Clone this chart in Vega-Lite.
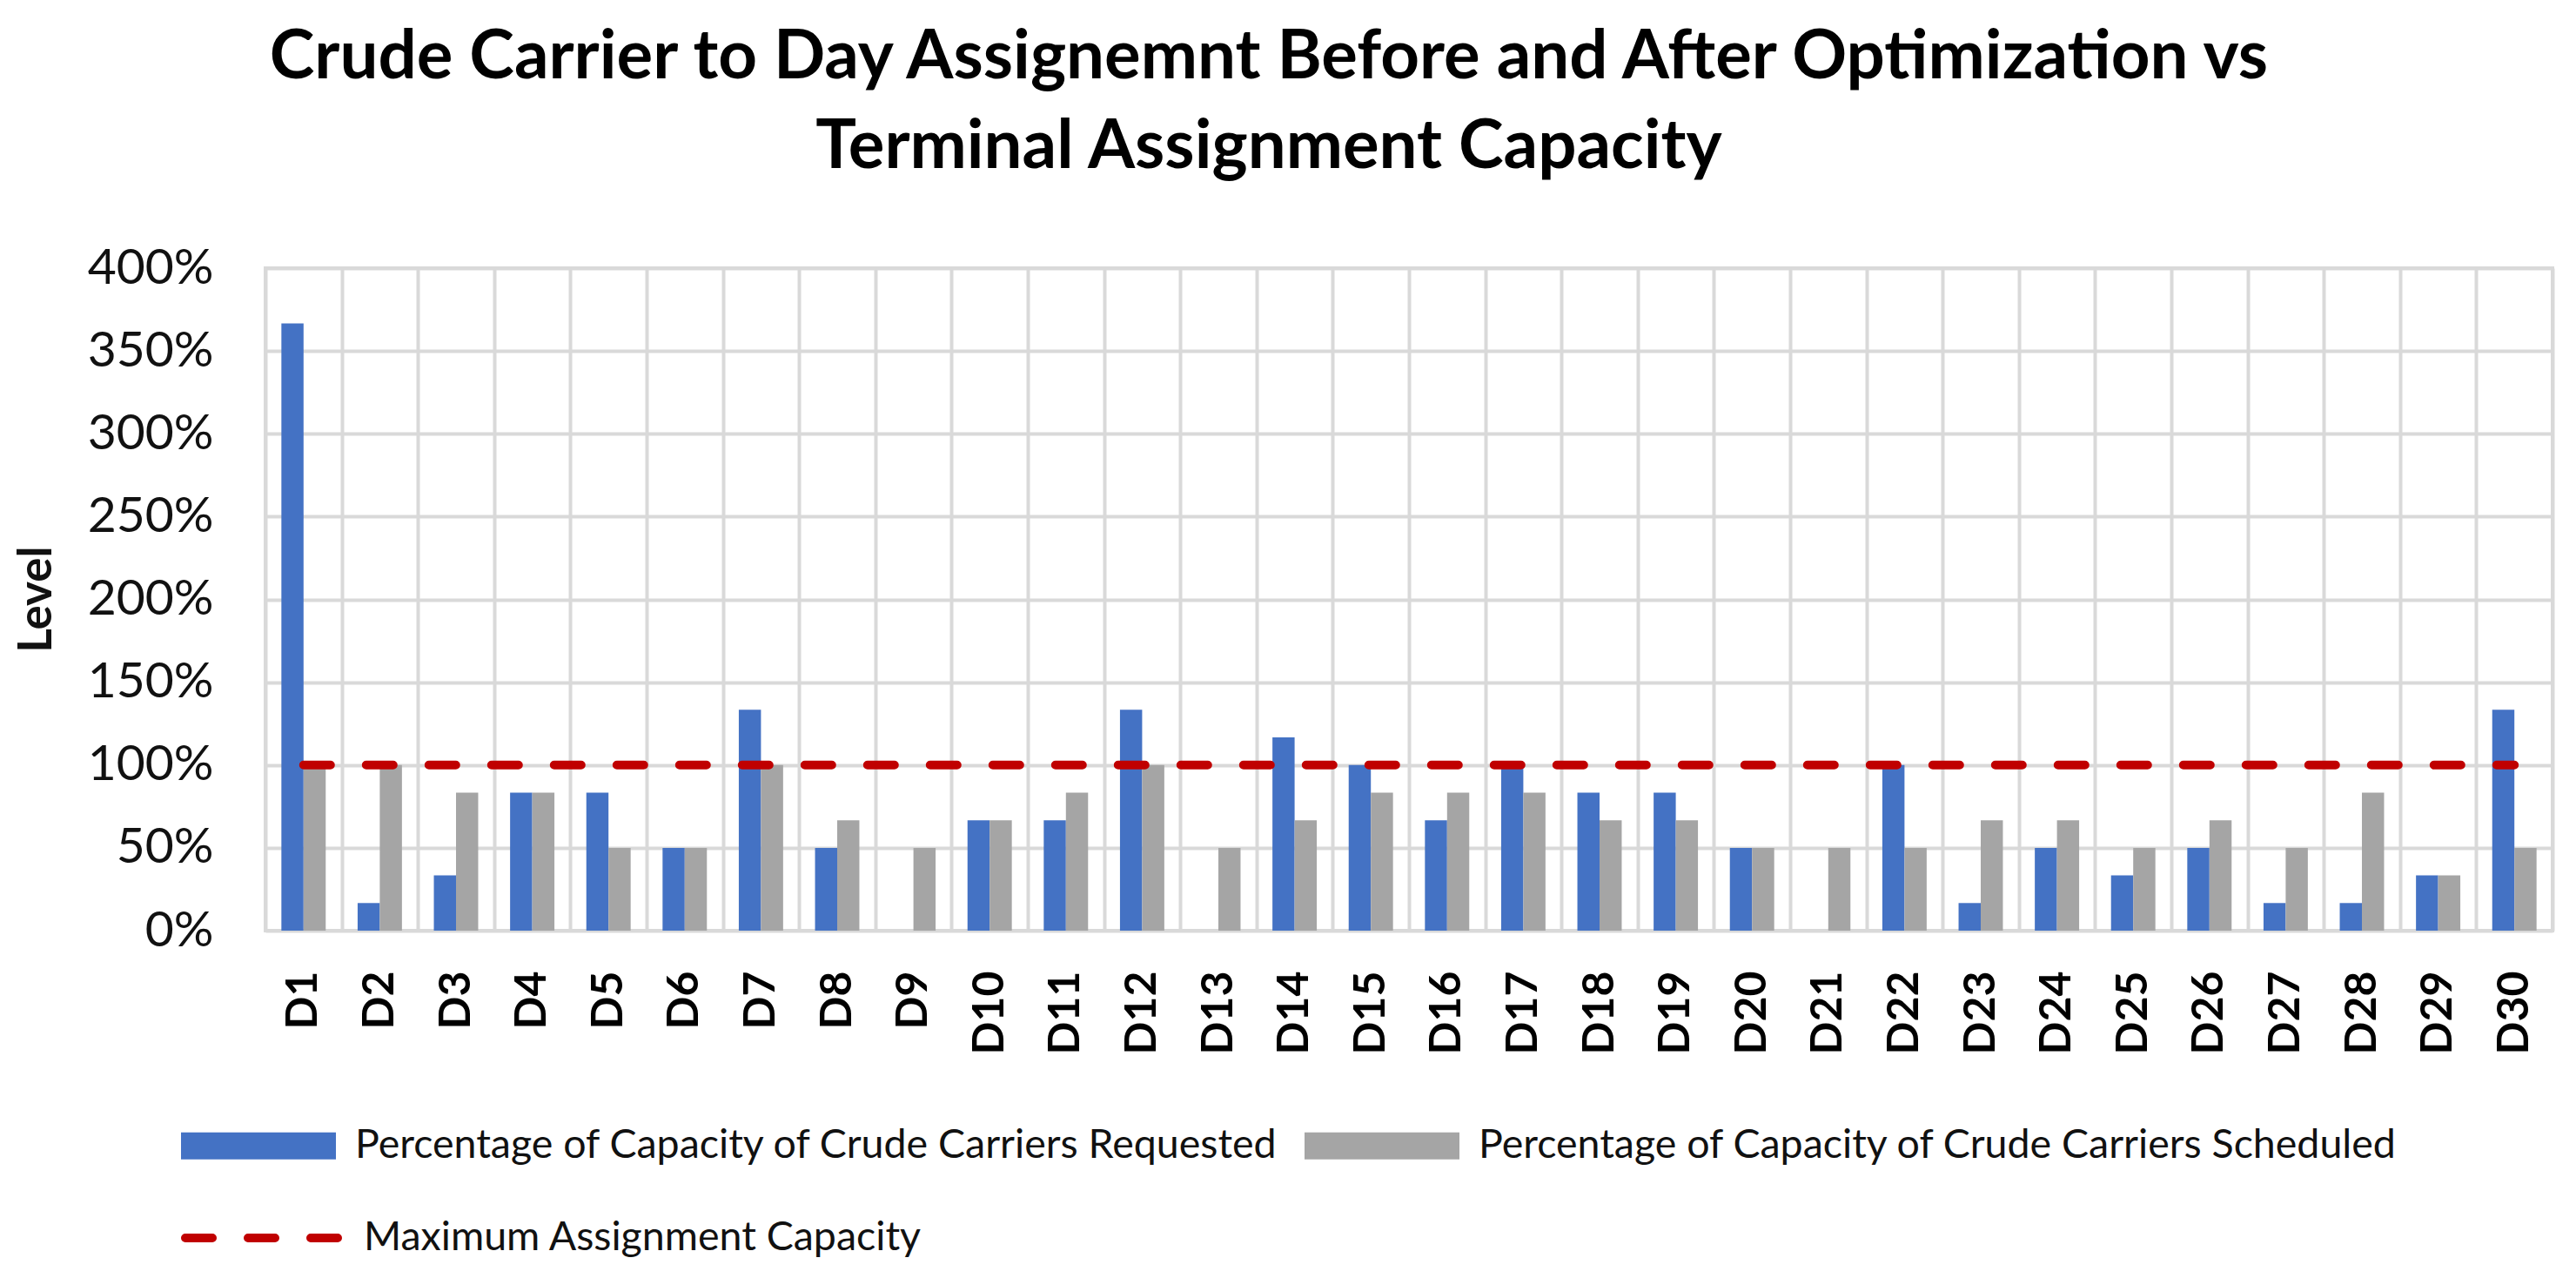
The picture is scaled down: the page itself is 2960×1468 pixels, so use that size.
{
  "$schema": "https://vega.github.io/schema/vega-lite/v6.json",
  "width": 2628,
  "height": 761,
  "autosize": {"type": "none"},
  "padding": {"left": 305, "top": 308, "right": 27, "bottom": 399},
  "background": "white",
  "config": {
    "font": "Lato",
    "view": {"stroke": "#D9D9D9", "strokeWidth": 4},
    "axis": {"labelFont": "Lato", "titleFont": "Lato", "labelColor": "#111111", "titleColor": "#111111"},
    "legend": {"labelFont": "Lato"}
  },
  "title": {
    "text": ["Crude Carrier to Day Assignemnt Before and After Optimization vs", "Terminal Assignment Capacity"],
    "font": "Lato",
    "fontSize": 78,
    "fontWeight": "bold",
    "color": "#000000",
    "anchor": "middle",
    "frame": "group",
    "dx": -161,
    "lineHeight": 103,
    "offset": 70
  },
  "datasets": {
    "bars": [
      {"day": "D1", "series": "Percentage of Capacity of Crude Carriers Requested", "value": 3.6667},
      {"day": "D1", "series": "Percentage of Capacity of Crude Carriers Scheduled", "value": 1.0},
      {"day": "D2", "series": "Percentage of Capacity of Crude Carriers Requested", "value": 0.1667},
      {"day": "D2", "series": "Percentage of Capacity of Crude Carriers Scheduled", "value": 1.0},
      {"day": "D3", "series": "Percentage of Capacity of Crude Carriers Requested", "value": 0.3333},
      {"day": "D3", "series": "Percentage of Capacity of Crude Carriers Scheduled", "value": 0.8333},
      {"day": "D4", "series": "Percentage of Capacity of Crude Carriers Requested", "value": 0.8333},
      {"day": "D4", "series": "Percentage of Capacity of Crude Carriers Scheduled", "value": 0.8333},
      {"day": "D5", "series": "Percentage of Capacity of Crude Carriers Requested", "value": 0.8333},
      {"day": "D5", "series": "Percentage of Capacity of Crude Carriers Scheduled", "value": 0.5},
      {"day": "D6", "series": "Percentage of Capacity of Crude Carriers Requested", "value": 0.5},
      {"day": "D6", "series": "Percentage of Capacity of Crude Carriers Scheduled", "value": 0.5},
      {"day": "D7", "series": "Percentage of Capacity of Crude Carriers Requested", "value": 1.3333},
      {"day": "D7", "series": "Percentage of Capacity of Crude Carriers Scheduled", "value": 1.0},
      {"day": "D8", "series": "Percentage of Capacity of Crude Carriers Requested", "value": 0.5},
      {"day": "D8", "series": "Percentage of Capacity of Crude Carriers Scheduled", "value": 0.6667},
      {"day": "D9", "series": "Percentage of Capacity of Crude Carriers Requested", "value": 0},
      {"day": "D9", "series": "Percentage of Capacity of Crude Carriers Scheduled", "value": 0.5},
      {"day": "D10", "series": "Percentage of Capacity of Crude Carriers Requested", "value": 0.6667},
      {"day": "D10", "series": "Percentage of Capacity of Crude Carriers Scheduled", "value": 0.6667},
      {"day": "D11", "series": "Percentage of Capacity of Crude Carriers Requested", "value": 0.6667},
      {"day": "D11", "series": "Percentage of Capacity of Crude Carriers Scheduled", "value": 0.8333},
      {"day": "D12", "series": "Percentage of Capacity of Crude Carriers Requested", "value": 1.3333},
      {"day": "D12", "series": "Percentage of Capacity of Crude Carriers Scheduled", "value": 1.0},
      {"day": "D13", "series": "Percentage of Capacity of Crude Carriers Requested", "value": 0},
      {"day": "D13", "series": "Percentage of Capacity of Crude Carriers Scheduled", "value": 0.5},
      {"day": "D14", "series": "Percentage of Capacity of Crude Carriers Requested", "value": 1.1667},
      {"day": "D14", "series": "Percentage of Capacity of Crude Carriers Scheduled", "value": 0.6667},
      {"day": "D15", "series": "Percentage of Capacity of Crude Carriers Requested", "value": 1.0},
      {"day": "D15", "series": "Percentage of Capacity of Crude Carriers Scheduled", "value": 0.8333},
      {"day": "D16", "series": "Percentage of Capacity of Crude Carriers Requested", "value": 0.6667},
      {"day": "D16", "series": "Percentage of Capacity of Crude Carriers Scheduled", "value": 0.8333},
      {"day": "D17", "series": "Percentage of Capacity of Crude Carriers Requested", "value": 1.0},
      {"day": "D17", "series": "Percentage of Capacity of Crude Carriers Scheduled", "value": 0.8333},
      {"day": "D18", "series": "Percentage of Capacity of Crude Carriers Requested", "value": 0.8333},
      {"day": "D18", "series": "Percentage of Capacity of Crude Carriers Scheduled", "value": 0.6667},
      {"day": "D19", "series": "Percentage of Capacity of Crude Carriers Requested", "value": 0.8333},
      {"day": "D19", "series": "Percentage of Capacity of Crude Carriers Scheduled", "value": 0.6667},
      {"day": "D20", "series": "Percentage of Capacity of Crude Carriers Requested", "value": 0.5},
      {"day": "D20", "series": "Percentage of Capacity of Crude Carriers Scheduled", "value": 0.5},
      {"day": "D21", "series": "Percentage of Capacity of Crude Carriers Requested", "value": 0},
      {"day": "D21", "series": "Percentage of Capacity of Crude Carriers Scheduled", "value": 0.5},
      {"day": "D22", "series": "Percentage of Capacity of Crude Carriers Requested", "value": 1.0},
      {"day": "D22", "series": "Percentage of Capacity of Crude Carriers Scheduled", "value": 0.5},
      {"day": "D23", "series": "Percentage of Capacity of Crude Carriers Requested", "value": 0.1667},
      {"day": "D23", "series": "Percentage of Capacity of Crude Carriers Scheduled", "value": 0.6667},
      {"day": "D24", "series": "Percentage of Capacity of Crude Carriers Requested", "value": 0.5},
      {"day": "D24", "series": "Percentage of Capacity of Crude Carriers Scheduled", "value": 0.6667},
      {"day": "D25", "series": "Percentage of Capacity of Crude Carriers Requested", "value": 0.3333},
      {"day": "D25", "series": "Percentage of Capacity of Crude Carriers Scheduled", "value": 0.5},
      {"day": "D26", "series": "Percentage of Capacity of Crude Carriers Requested", "value": 0.5},
      {"day": "D26", "series": "Percentage of Capacity of Crude Carriers Scheduled", "value": 0.6667},
      {"day": "D27", "series": "Percentage of Capacity of Crude Carriers Requested", "value": 0.1667},
      {"day": "D27", "series": "Percentage of Capacity of Crude Carriers Scheduled", "value": 0.5},
      {"day": "D28", "series": "Percentage of Capacity of Crude Carriers Requested", "value": 0.1667},
      {"day": "D28", "series": "Percentage of Capacity of Crude Carriers Scheduled", "value": 0.8333},
      {"day": "D29", "series": "Percentage of Capacity of Crude Carriers Requested", "value": 0.3333},
      {"day": "D29", "series": "Percentage of Capacity of Crude Carriers Scheduled", "value": 0.3333},
      {"day": "D30", "series": "Percentage of Capacity of Crude Carriers Requested", "value": 1.3333},
      {"day": "D30", "series": "Percentage of Capacity of Crude Carriers Scheduled", "value": 0.5}
    ],
    "cap": [
      {"day": "D1", "line": "Maximum Assignment Capacity", "cap": 1},
      {"day": "D2", "line": "Maximum Assignment Capacity", "cap": 1},
      {"day": "D3", "line": "Maximum Assignment Capacity", "cap": 1},
      {"day": "D4", "line": "Maximum Assignment Capacity", "cap": 1},
      {"day": "D5", "line": "Maximum Assignment Capacity", "cap": 1},
      {"day": "D6", "line": "Maximum Assignment Capacity", "cap": 1},
      {"day": "D7", "line": "Maximum Assignment Capacity", "cap": 1},
      {"day": "D8", "line": "Maximum Assignment Capacity", "cap": 1},
      {"day": "D9", "line": "Maximum Assignment Capacity", "cap": 1},
      {"day": "D10", "line": "Maximum Assignment Capacity", "cap": 1},
      {"day": "D11", "line": "Maximum Assignment Capacity", "cap": 1},
      {"day": "D12", "line": "Maximum Assignment Capacity", "cap": 1},
      {"day": "D13", "line": "Maximum Assignment Capacity", "cap": 1},
      {"day": "D14", "line": "Maximum Assignment Capacity", "cap": 1},
      {"day": "D15", "line": "Maximum Assignment Capacity", "cap": 1},
      {"day": "D16", "line": "Maximum Assignment Capacity", "cap": 1},
      {"day": "D17", "line": "Maximum Assignment Capacity", "cap": 1},
      {"day": "D18", "line": "Maximum Assignment Capacity", "cap": 1},
      {"day": "D19", "line": "Maximum Assignment Capacity", "cap": 1},
      {"day": "D20", "line": "Maximum Assignment Capacity", "cap": 1},
      {"day": "D21", "line": "Maximum Assignment Capacity", "cap": 1},
      {"day": "D22", "line": "Maximum Assignment Capacity", "cap": 1},
      {"day": "D23", "line": "Maximum Assignment Capacity", "cap": 1},
      {"day": "D24", "line": "Maximum Assignment Capacity", "cap": 1},
      {"day": "D25", "line": "Maximum Assignment Capacity", "cap": 1},
      {"day": "D26", "line": "Maximum Assignment Capacity", "cap": 1},
      {"day": "D27", "line": "Maximum Assignment Capacity", "cap": 1},
      {"day": "D28", "line": "Maximum Assignment Capacity", "cap": 1},
      {"day": "D29", "line": "Maximum Assignment Capacity", "cap": 1},
      {"day": "D30", "line": "Maximum Assignment Capacity", "cap": 1}
    ]
  },
  "encoding": {
    "x": {
      "field": "day",
      "type": "nominal",
      "sort": null,
      "scale": {"paddingInner": 0, "paddingOuter": 0},
      "axis": {
        "title": null,
        "labelAngle": -90,
        "labelAlign": "right",
        "labelBaseline": "middle",
        "labelFontSize": 50,
        "labelFontWeight": "bold",
        "labelPadding": 46,
        "labelColor": "#000000",
        "ticks": false,
        "domain": false,
        "grid": true,
        "tickBand": "extent",
        "gridColor": "#D9D9D9",
        "gridWidth": 4
      }
    }
  },
  "layer": [
    {
      "data": {"name": "bars"},
      "mark": {"type": "bar"},
      "encoding": {
        "xOffset": {"field": "series", "type": "nominal", "scale": {"paddingInner": 0, "paddingOuter": 0.72}},
        "y": {
          "field": "value",
          "type": "quantitative",
          "scale": {"domain": [0, 4], "nice": false},
          "axis": {
            "title": "Level",
            "titleFontSize": 53,
            "titleFontWeight": "bold",
            "titleAngle": 270,
            "titleAlign": "center",
            "titleBaseline": "middle",
            "titleX": -263,
            "titleY": 380,
            "values": [0, 0.5, 1, 1.5, 2, 2.5, 3, 3.5, 4],
            "format": ".0%",
            "labelFontSize": 57,
            "labelPadding": 60,
            "ticks": false,
            "domain": false,
            "grid": true,
            "gridColor": "#D9D9D9",
            "gridWidth": 4
          }
        },
        "color": {
          "field": "series",
          "type": "nominal",
          "scale": {
            "domain": ["Percentage of Capacity of Crude Carriers Requested", "Percentage of Capacity of Crude Carriers Scheduled"],
            "range": ["#4472C4", "#A5A5A5"]
          },
          "legend": {
            "title": null,
            "orient": "none",
            "direction": "horizontal",
            "legendX": -97,
            "legendY": 919,
            "symbolType": "M-1,-0.174H1V0.174H-1Z",
            "symbolSize": 31684,
            "symbolStrokeWidth": 0,
            "labelFontSize": 46.5,
            "labelColor": "#111111",
            "labelLimit": 2000,
            "labelOffset": 22,
            "columnPadding": 29
          }
        }
      }
    },
    {
      "data": {"name": "cap"},
      "mark": {"type": "line", "strokeWidth": 10, "strokeDash": [31, 41], "strokeCap": "round"},
      "encoding": {
        "y": {"field": "cap", "type": "quantitative"},
        "stroke": {
          "field": "line",
          "type": "nominal",
          "scale": {"range": ["#C00000"]},
          "legend": {
            "title": null,
            "orient": "none",
            "legendX": -97,
            "legendY": 1020,
            "symbolType": "stroke",
            "symbolSize": 31684,
            "symbolStrokeWidth": 10,
            "symbolDash": [31, 41],
            "labelFontSize": 46.5,
            "labelColor": "#111111",
            "labelLimit": 2000,
            "labelOffset": 22,
            "encode": {"symbols": {"update": {"strokeCap": {"value": "round"}}}}
          }
        }
      }
    }
  ]
}
